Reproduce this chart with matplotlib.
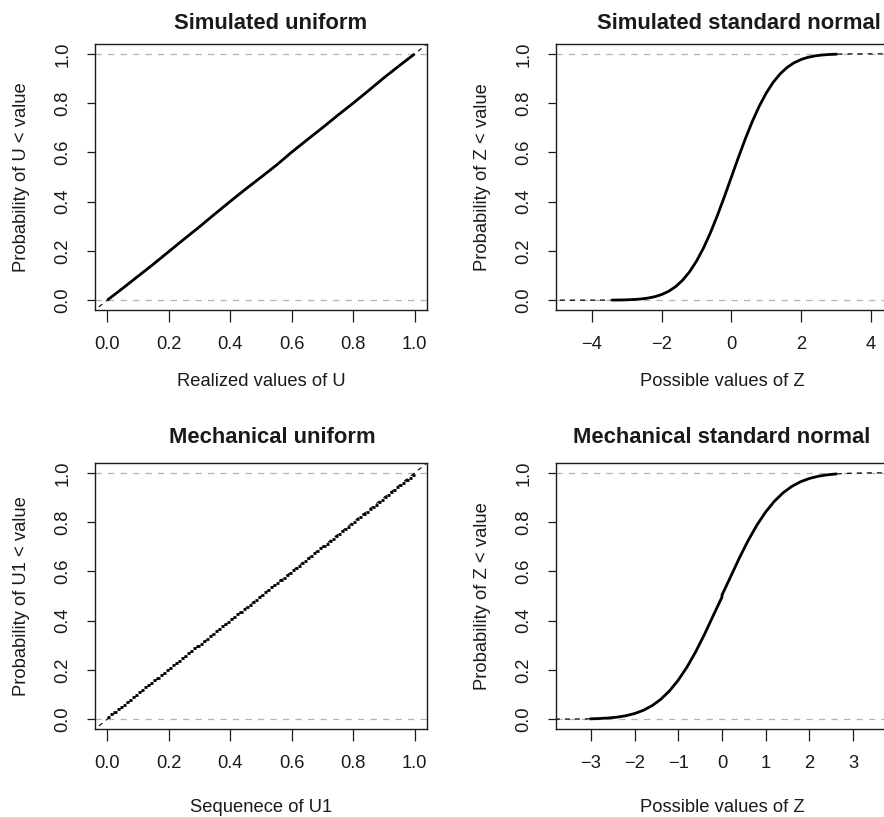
import matplotlib
matplotlib.use("Agg")
import matplotlib.pyplot as plt

plt.rcParams['font.family'] = ['Liberation Sans', 'DejaVu Sans']

# ---------------- data ----------------
# Simulated uniform: empirical CDF of U
sim_u_x = [0.00, 0.05, 0.10, 0.15, 0.20, 0.25, 0.30, 0.35, 0.40, 0.45, 0.50,
           0.55, 0.60, 0.65, 0.70, 0.75, 0.80, 0.85, 0.90, 0.95, 1.00]
sim_u_p = [0.00, 0.048, 0.097, 0.146, 0.197, 0.248, 0.298, 0.350, 0.401, 0.451, 0.499,
           0.548, 0.601, 0.651, 0.700, 0.751, 0.800, 0.851, 0.903, 0.952, 1.00]

# Mechanical uniform: sequence of U1 values (ECDF drawn as horizontal steps)
u1_values = [0.00, 0.01, 0.02, 0.03, 0.04, 0.05, 0.06, 0.07, 0.08, 0.09,
             0.10, 0.11, 0.12, 0.13, 0.14, 0.15, 0.16, 0.17, 0.18, 0.19,
             0.20, 0.21, 0.22, 0.23, 0.24, 0.25, 0.26, 0.27, 0.28, 0.29,
             0.30, 0.31, 0.32, 0.33, 0.34, 0.35, 0.36, 0.37, 0.38, 0.39,
             0.40, 0.41, 0.42, 0.43, 0.44, 0.45, 0.46, 0.47, 0.48, 0.49,
             0.50, 0.51, 0.52, 0.53, 0.54, 0.55, 0.56, 0.57, 0.58, 0.59,
             0.60, 0.61, 0.62, 0.63, 0.64, 0.65, 0.66, 0.67, 0.68, 0.69,
             0.70, 0.71, 0.72, 0.73, 0.74, 0.75, 0.76, 0.77, 0.78, 0.79,
             0.80, 0.81, 0.82, 0.83, 0.84, 0.85, 0.86, 0.87, 0.88, 0.89,
             0.90, 0.91, 0.92, 0.93, 0.94, 0.95, 0.96, 0.97, 0.98, 0.99, 1.00]

# Reference (dashed) line for uniform panels
unif_ref_x = [-0.05, 1.05]
unif_ref_p = [-0.05, 1.05]

# Theoretical standard normal CDF (dashed)
norm_ref_x = [-5.2, -4.6, -4.0, -3.6, -3.4, -3.2, -3.0, -2.8, -2.6, -2.4, -2.2, -2.0,
              -1.8, -1.6, -1.4, -1.2, -1.0, -0.8, -0.6, -0.4, -0.2, 0.0, 0.2, 0.4,
              0.6, 0.8, 1.0, 1.2, 1.4, 1.6, 1.8, 2.0, 2.2, 2.4, 2.6, 2.8, 3.0, 3.2,
              3.4, 3.6, 4.0, 4.6, 5.2]
norm_ref_p = [0.0, 0.0, 0.0, 0.0002, 0.0003, 0.0007, 0.0013, 0.0026, 0.0047, 0.0082,
              0.0139, 0.0228, 0.0359, 0.0548, 0.0808, 0.1151, 0.1587, 0.2119, 0.2743,
              0.3446, 0.4207, 0.5, 0.5793, 0.6554, 0.7257, 0.7881, 0.8413, 0.8849,
              0.9192, 0.9452, 0.9641, 0.9772, 0.9861, 0.9918, 0.9953, 0.9974, 0.9987,
              0.9993, 0.9997, 0.9998, 1.0, 1.0, 1.0]

# Simulated standard normal: empirical CDF of Z
sim_z_x = [-3.4, -3.2, -3.0, -2.8, -2.6, -2.4, -2.2, -2.0, -1.8, -1.6, -1.4, -1.2,
           -1.0, -0.8, -0.6, -0.4, -0.2, 0.0, 0.2, 0.4, 0.6, 0.8, 1.0, 1.2, 1.4,
           1.6, 1.8, 2.0, 2.2, 2.4, 2.6, 2.8, 3.0]
sim_z_p = [0.0003, 0.0007, 0.0013, 0.0026, 0.0047, 0.0082, 0.0139, 0.0228, 0.0359,
           0.0548, 0.0808, 0.1151, 0.1587, 0.2119, 0.2743, 0.3446, 0.4207, 0.5,
           0.5793, 0.6554, 0.7257, 0.7881, 0.8413, 0.8849, 0.9192, 0.9452, 0.9641,
           0.9772, 0.9861, 0.9918, 0.9953, 0.9974, 0.9987]

# Mechanical standard normal: empirical CDF of Z
mech_z_x = [-3.0, -2.8, -2.6, -2.4, -2.2, -2.0, -1.8, -1.6, -1.4, -1.2, -1.0, -0.8,
            -0.6, -0.4, -0.2, 0.0, 0.0, 0.2, 0.4, 0.6, 0.8, 1.0, 1.2, 1.4, 1.6,
            1.8, 2.0, 2.2, 2.4, 2.6]
mech_z_p = [0.0013, 0.0026, 0.0047, 0.0082, 0.0139, 0.0228, 0.0359, 0.0548, 0.0808,
            0.1151, 0.1587, 0.2119, 0.2743, 0.3446, 0.4207, 0.496, 0.504, 0.5793,
            0.6554, 0.7257, 0.7881, 0.8413, 0.8849, 0.9192, 0.9452, 0.9641, 0.9772,
            0.9861, 0.9918, 0.9953]

y_ticks = [0.0, 0.2, 0.4, 0.6, 0.8, 1.0]
y_tick_labels = ["0.0", "0.2", "0.4", "0.6", "0.8", "1.0"]
u_ticks = [0.0, 0.2, 0.4, 0.6, 0.8, 1.0]
u_tick_labels = ["0.0", "0.2", "0.4", "0.6", "0.8", "1.0"]
z_ticks_top = [-4, -2, 0, 2, 4]
z_tick_labels_top = ["\u22124", "\u22122", "0", "2", "4"]
z_ticks_bot = [-3, -2, -1, 0, 1, 2, 3]
z_tick_labels_bot = ["\u22123", "\u22122", "\u22121", "0", "1", "2", "3"]

titles = ["Simulated uniform", "Simulated standard normal",
          "Mechanical uniform", "Mechanical standard normal"]
xlabels = ["Realized values of U", "Possible values of Z",
           "Sequenece of U1", "Possible values of Z"]
ylabels = ["Probability of U < value", "Probability of Z < value",
           "Probability of U1 < value", "Probability of Z < value"]

# ---------------- figure ----------------
W, H = 884, 817
fig = plt.figure(figsize=(W / 100, H / 100), dpi=100)


def add_ax(left, top, right, bottom):
    return fig.add_axes([left / W, 1 - bottom / H, (right - left) / W, (bottom - top) / H])


ax_tl = add_ax(95, 44, 427, 310)
ax_tr = add_ax(556, 44, 888, 310)
ax_bl = add_ax(95, 463, 427, 729)
ax_br = add_ax(556, 463, 888, 729)

FS = 13.2
GRAY = "#B3B3B3"
INK = "#1a1a1a"


def style(ax, title, xlabel, ylabel, xticks, xticklabels, xlim, title_x, title_pad, xlabelpad):
    ax.set_xlim(*xlim)
    ax.set_ylim(-0.04, 1.04)
    ax.axhline(0, color=GRAY, lw=0.9, ls=(0, (5, 5)), zorder=1)
    ax.axhline(1, color=GRAY, lw=0.9, ls=(0, (5, 5)), zorder=1)
    ax.set_xticks(xticks)
    ax.set_xticklabels(xticklabels, fontsize=FS)
    ax.set_yticks(y_ticks)
    ax.set_yticklabels(y_tick_labels, fontsize=FS, rotation=90, va="center")
    ax.tick_params(axis="x", direction="out", length=8.4, width=0.9, pad=10.0, colors=INK)
    ax.tick_params(axis="y", direction="out", length=5.8, width=0.9, pad=11.0, colors=INK)
    for s in ax.spines.values():
        s.set_linewidth(1.0)
        s.set_color(INK)
    ax.set_title(title, fontsize=FS * 1.2, fontweight="bold", x=title_x, pad=title_pad,
                 color=INK)
    ax.set_xlabel(xlabel, fontsize=FS, labelpad=xlabelpad, color=INK)
    ax.set_ylabel(ylabel, fontsize=FS, labelpad=18, color=INK)


# Top-left: simulated uniform
ax_tl.plot(unif_ref_x, unif_ref_p, color="black", lw=0.8, ls=(0, (4, 4)), zorder=2)
ax_tl.plot(sim_u_x, sim_u_p, color="black", lw=2.0, zorder=3, solid_capstyle="butt")
style(ax_tl, titles[0], xlabels[0], ylabels[0], u_ticks, u_tick_labels,
      (-0.04, 1.04), 0.53, 10.8, 14.5)

# Top-right: simulated standard normal
ax_tr.plot(norm_ref_x, norm_ref_p, color="black", lw=0.9, ls=(0, (4, 4)), zorder=2)
ax_tr.plot(sim_z_x, sim_z_p, color="black", lw=2.0, zorder=3)
style(ax_tr, titles[1], xlabels[1], ylabels[1], z_ticks_top, z_tick_labels_top,
      (-5.03, 4.49), 0.55, 10.8, 14.5)

# Bottom-left: mechanical uniform (ECDF, horizontal segments only)
n = len(u1_values)
ecdf_y = [(i + 1) / n for i in range(n)]
ax_bl.plot(unif_ref_x, unif_ref_p, color="black", lw=0.8, ls=(0, (4, 4)), zorder=2)
ax_bl.hlines(ecdf_y[:-1], u1_values[:-1], u1_values[1:], color="black", lw=2.0, zorder=3)
style(ax_bl, titles[2], xlabels[2], ylabels[2], u_ticks, u_tick_labels,
      (-0.04, 1.04), 0.535, 14.4, 20.0)

# Bottom-right: mechanical standard normal
ax_br.plot(norm_ref_x, norm_ref_p, color="black", lw=0.9, ls=(0, (4, 4)), zorder=2)
ax_br.plot(mech_z_x, mech_z_p, color="black", lw=2.0, zorder=3)
style(ax_br, titles[3], xlabels[3], ylabels[3], z_ticks_bot, z_tick_labels_bot,
      (-3.8, 3.8), 0.5, 14.4, 20.0)

fig.savefig("out.png", dpi=100)
